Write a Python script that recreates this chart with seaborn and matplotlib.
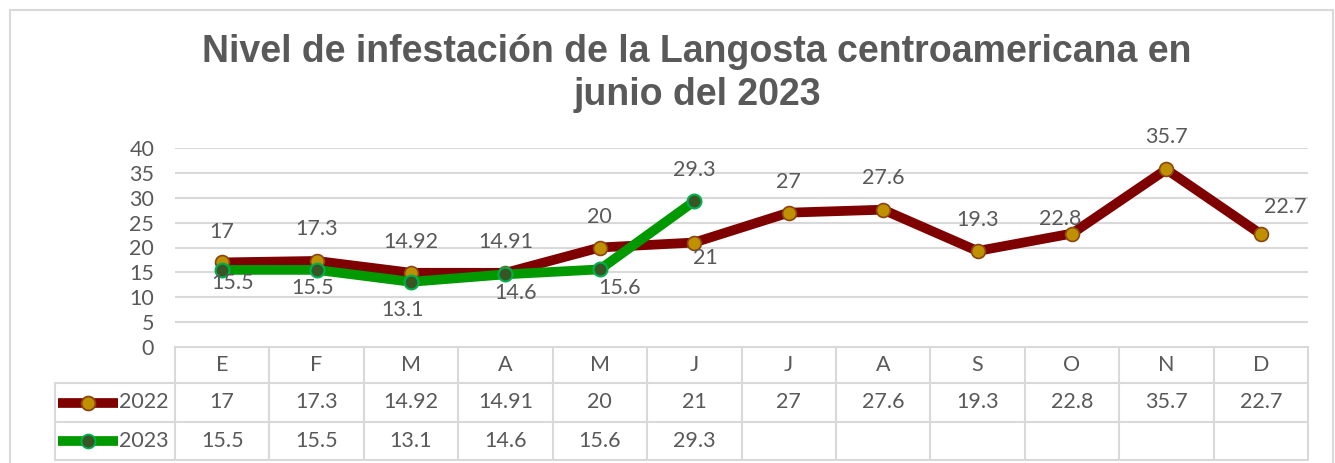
import numpy as np
import pandas as pd
import seaborn as sns
import matplotlib.pyplot as plt
from matplotlib.lines import Line2D

# Datos
meses = ['E', 'F', 'M', 'A', 'M', 'J', 'J', 'A', 'S', 'O', 'N', 'D']
valores_2022 = [17, 17.3, 14.92, 14.91, 20, 21, 27, 27.6, 19.3, 22.8, 35.7, 22.7]
valores_2023 = [15.5, 15.5, 13.1, 14.6, 15.6, 29.3]
etiquetas_2022 = ['17', '17.3', '14.92', '14.91', '20', '21', '27', '27.6', '19.3', '22.8', '35.7', '22.7']
etiquetas_2023 = ['15.5', '15.5', '13.1', '14.6', '15.6', '29.3']
yticks = [0, 5, 10, 15, 20, 25, 30, 35, 40]

# desplazamientos de las etiquetas (pixeles)
off_2022 = [(0, 30), (0, 32), (0, 31), (0, 31), (0, 30), (11, -15),
            (0, 31), (0, 32), (0, 31), (-12, 15), (0, 32), (24, 27)]
off_2023 = [(10, -13), (-4, -18), (-8, -28), (10, -19), (20, -19), (0, 31)]

sns.set_theme(style='white')
plt.rcParams['font.family'] = ['Lato', 'DejaVu Sans']

GRIS = '#595959'
BORDE = '#D9D9D9'
ROJO = '#7F0000'
ORO = '#BF9000'
VERDE = '#009900'
VERDE_OSC = '#375623'
FS = 15.5

W, H = 1335, 463
fig = plt.figure(figsize=(W / 100, H / 100), dpi=100)

def fx(px):
    return px / W

def fy(py):
    return 1 - py / H

x_left, x_right, y_top, y_bot = 175, 1308, 148, 347
ax = fig.add_axes([fx(x_left), fy(y_bot), fx(x_right - x_left), (y_bot - y_top) / H])

df22 = pd.DataFrame({'x': np.arange(len(valores_2022)), 'y': valores_2022})
df23 = pd.DataFrame({'x': np.arange(len(valores_2023)), 'y': valores_2023})

sns.lineplot(data=df22, x='x', y='y', ax=ax, color=ROJO, linewidth=7,
             marker='o', markersize=10, markerfacecolor=ORO,
             markeredgecolor='#8B4513', markeredgewidth=1.2, zorder=3)
sns.lineplot(data=df23, x='x', y='y', ax=ax, color=VERDE, linewidth=7,
             marker='o', markersize=10, markerfacecolor=VERDE_OSC,
             markeredgecolor='#00B050', markeredgewidth=1.5, zorder=4)

for i, (v, t) in enumerate(zip(valores_2022, etiquetas_2022)):
    ax.annotate(t, (i, v), xytext=off_2022[i], textcoords='offset pixels',
                ha='center', va='center', fontsize=FS, color=GRIS, zorder=5)
for i, (v, t) in enumerate(zip(valores_2023, etiquetas_2023)):
    ax.annotate(t, (i, v), xytext=off_2023[i], textcoords='offset pixels',
                ha='center', va='center', fontsize=FS, color=GRIS, zorder=5)

ax.set_xlim(-0.5, len(meses) - 0.5)
ax.set_ylim(0, 40)
ax.set_yticks(yticks)
ax.set_yticklabels([str(t) for t in yticks], fontsize=FS, color=GRIS)
ax.tick_params(axis='y', length=0, pad=15)
ax.set_xticks([])
ax.set_xlabel('')
ax.set_ylabel('')
for t in yticks[1:]:
    ax.axhline(t, color=BORDE, linewidth=1.5, zorder=1)
for s in ax.spines.values():
    s.set_visible(False)

# Tabla de datos
tab_left = 55
unit = (x_right - x_left) / len(meses)
tab = fig.add_axes([fx(tab_left), fy(460), fx(x_right - tab_left), (460 - y_bot) / H])
tab.set_xlim(-0.5 - (x_left - tab_left) / unit, len(meses) - 0.5)
tab.set_ylim(460, y_bot)
tab.axis('off')
filas = [347, 383, 422, 460]
x0 = tab.get_xlim()[0]
tab.plot([-0.5, len(meses) - 0.5], [filas[0]] * 2, color=BORDE, lw=1.5, clip_on=False)
for yy in filas[1:]:
    tab.plot([x0, len(meses) - 0.5], [yy] * 2, color=BORDE, lw=1.5, clip_on=False)
for k in range(len(meses) + 1):
    tab.plot([k - 0.5] * 2, [filas[0], filas[-1]], color=BORDE, lw=1.5, clip_on=False)
tab.plot([x0] * 2, [filas[1], filas[-1]], color=BORDE, lw=1.5, clip_on=False)

for i, m in enumerate(meses):
    tab.text(i, (filas[0] + filas[1]) / 2, m, ha='center', va='center', fontsize=FS, color=GRIS)
for i, t in enumerate(etiquetas_2022):
    tab.text(i, (filas[1] + filas[2]) / 2, t, ha='center', va='center', fontsize=FS, color=GRIS)
for i, t in enumerate(etiquetas_2023):
    tab.text(i, (filas[2] + filas[3]) / 2, t, ha='center', va='center', fontsize=FS, color=GRIS)

# claves de leyenda en la tabla
ley_x0 = x0 + 3 / unit
ley_x1 = x0 + 63 / unit
for (yc, col, fc, ec, nombre) in [((filas[1] + filas[2]) / 2, ROJO, ORO, '#8B4513', '2022'),
                                  ((filas[2] + filas[3]) / 2, VERDE, VERDE_OSC, '#00B050', '2023')]:
    tab.plot([ley_x0, ley_x1], [yc, yc], color=col, lw=7, solid_capstyle='butt', clip_on=False)
    tab.plot([(ley_x0 + ley_x1) / 2], [yc], marker='o', markersize=10, markerfacecolor=fc,
             markeredgecolor=ec, markeredgewidth=1.3, clip_on=False)
    tab.text(ley_x1 + 1 / unit, yc, nombre, ha='left', va='center', fontsize=FS, color=GRIS)

# Titulo
fig.text(fx(697), fy(62), 'Nivel de infestación de la Langosta centroamericana en',
         ha='center', va='baseline', fontsize=27, fontweight='bold', color=GRIS,
         family=['Liberation Sans', 'DejaVu Sans'])
fig.text(fx(697), fy(105), 'junio del 2023',
         ha='center', va='baseline', fontsize=27, fontweight='bold', color=GRIS,
         family=['Liberation Sans', 'DejaVu Sans'])

# Borde del area del grafico
for xs, ys in [([10, 10], [10, H]), ([10, 1333], [10, 10]), ([1333, 1333], [10, H])]:
    fig.add_artist(Line2D([fx(v) for v in xs], [fy(v) for v in ys], color=BORDE, lw=1.5))

fig.savefig('out.png', dpi=100)
